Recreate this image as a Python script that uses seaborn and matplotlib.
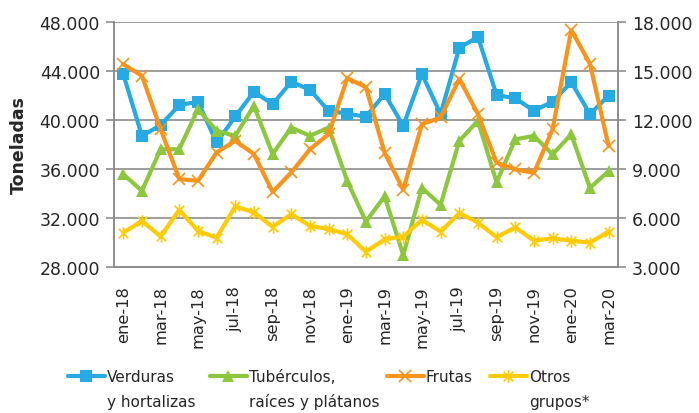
import matplotlib
matplotlib.use("Agg")
import matplotlib.pyplot as plt
import seaborn as sns
from matplotlib.path import Path
from matplotlib.ticker import FuncFormatter, FixedLocator

months = ["ene-18", "feb-18", "mar-18", "abr-18", "may-18", "jun-18", "jul-18",
          "ago-18", "sep-18", "oct-18", "nov-18", "dic-18", "ene-19", "feb-19",
          "mar-19", "abr-19", "may-19", "jun-19", "jul-19", "ago-19", "sep-19",
          "oct-19", "nov-19", "dic-19", "ene-20", "feb-20", "mar-20"]

# toneladas, eje izquierdo
verduras = [43730, 38690, 39560, 41200, 41470, 38150, 40270, 42290, 41280, 43100,
            42450, 40730, 40500, 40250, 42110, 39510, 43750, 40470, 45860, 46770,
            42030, 41750, 40740, 41480, 43070, 40470, 41970]
tuberculos = [35560, 34200, 37600, 37600, 40870, 39100, 38690, 41140, 37200, 39370,
              38690, 39370, 35000, 31700, 33750, 28960, 34440, 33070, 38270, 39920,
              34900, 38410, 38680, 37180, 38820, 34440, 35810]
frutas = [44540, 43590, 39240, 35160, 35020, 37330, 38290, 37200, 34120, 35700,
          37600, 38830, 43400, 42660, 37300, 34300, 39640, 40190, 43340, 40470,
          36500, 35950, 35670, 39230, 47320, 44580, 37860]
# toneladas, eje derecho
otros = [5100, 5810, 4860, 6490, 5200, 4780, 6700, 6330, 5450, 6220, 5510, 5310,
         5000, 3920, 4690, 4850, 5880, 5160, 6280, 5710, 4810, 5420, 4600, 4750,
         4600, 4480, 5160]

# etiquetas de leyenda: (primera línea, segunda línea)
legend_labels = [("Verduras", "y hortalizas"), ("Tubérculos,", "raíces y plátanos"),
                 ("Frutas", ""), ("Otros", "grupos*")]
colors = ["#27AAE1", "#8DC63F", "#F7941D", "#FFCB05"]

sns.set_style("white")
plt.rcParams["font.family"] = ["DejaVu Sans"]
plt.rcParams["font.size"] = 11

# asterisco tipo Excel: x + línea vertical
star = Path([(-1, -1), (1, 1), (-1, 1), (1, -1), (0, -1.3), (0, 1.3)],
            [Path.MOVETO, Path.LINETO, Path.MOVETO, Path.LINETO, Path.MOVETO, Path.LINETO])

W, H = 699, 414
fig = plt.figure(figsize=(W / 100, H / 100), dpi=100)
ax = fig.add_axes([0.163, 0.353, 0.721, 0.592])
ax2 = ax.twinx()

x = list(range(len(months)))
grid_c = "#8C8C8C"

common = dict(lw=3, linestyle="-", dashes=False)
sns.lineplot(x=x, y=verduras, ax=ax, color=colors[0], marker="s",
             markersize=8, markeredgewidth=0, **common)
sns.lineplot(x=x, y=tuberculos, ax=ax, color=colors[1], marker="^",
             markersize=9, markeredgewidth=0, **common)
sns.lineplot(x=x, y=frutas, ax=ax, color=colors[2], marker="x",
             markersize=9, markeredgewidth=1.2, markeredgecolor=colors[2], **common)
sns.lineplot(x=x, y=otros, ax=ax2, color=colors[3], marker=star,
             markersize=9, markeredgewidth=1.2, markeredgecolor=colors[3], **common)

ax.set_ylim(28000, 48000)
ax2.set_ylim(3000, 18000)
ax.set_yticks(range(28000, 48001, 4000))
ax2.set_yticks(range(3000, 18001, 3000))
fmt = FuncFormatter(lambda v, p: f"{v:,.0f}".replace(",", "."))
ax.yaxis.set_major_formatter(fmt)
ax2.yaxis.set_major_formatter(fmt)
ax.set_xlim(-0.5, len(months) - 0.5)

ax.set_xticks(x[::2])
ax.set_xticklabels(months[::2], rotation=90)
ax.xaxis.set_minor_locator(FixedLocator([i - 0.5 for i in range(len(months) + 1)]))
ax.tick_params(axis="x", which="major", length=0, pad=13, labelsize=11.7)
ax.tick_params(axis="x", which="minor", length=6, color=grid_c, width=1.2)
ax.tick_params(axis="y", length=6, color=grid_c, width=1.2, labelsize=12.5, pad=4)
ax2.tick_params(axis="y", length=6, color=grid_c, width=1.2, labelsize=12.5, pad=4)

ax.grid(axis="y", color=grid_c, lw=1.2)
ax.set_axisbelow(True)
for a in (ax, ax2):
    a.spines["top"].set_visible(False)
    for s in ("left", "right", "bottom"):
        a.spines[s].set_color(grid_c)
        a.spines[s].set_linewidth(1.2)

ax.set_xlabel("")
ax2.set_ylabel("")
fig.text(19 / W, 0.65, "Toneladas", rotation=90, fontweight="bold",
         fontsize=12.5, ha="center", va="center")

# leyenda: una entrada por columna, segunda línea como texto aparte
handles = ax.get_lines()[:3] + ax2.get_lines()[:1]
handle_x = [68, 210, 387, 490]
legs = []
for h, (l1, l2), hx in zip(handles, legend_labels, handle_x):
    leg = fig.legend([h], [l1], loc="center left",
                     bbox_to_anchor=(hx / W, 1 - 378 / H), frameon=False,
                     borderpad=0, borderaxespad=0, fontsize=11,
                     handlelength=2.4, handletextpad=0.15)
    legs.append((leg, l2))

fig.canvas.draw()
for leg, l2 in legs:
    if not l2:
        continue
    bb = leg.get_texts()[0].get_window_extent()
    fig.text(bb.x0 / W, (bb.y0 - 25) / H, l2, fontsize=11, ha="left", va="bottom")

fig.savefig("out.png", dpi=100)
